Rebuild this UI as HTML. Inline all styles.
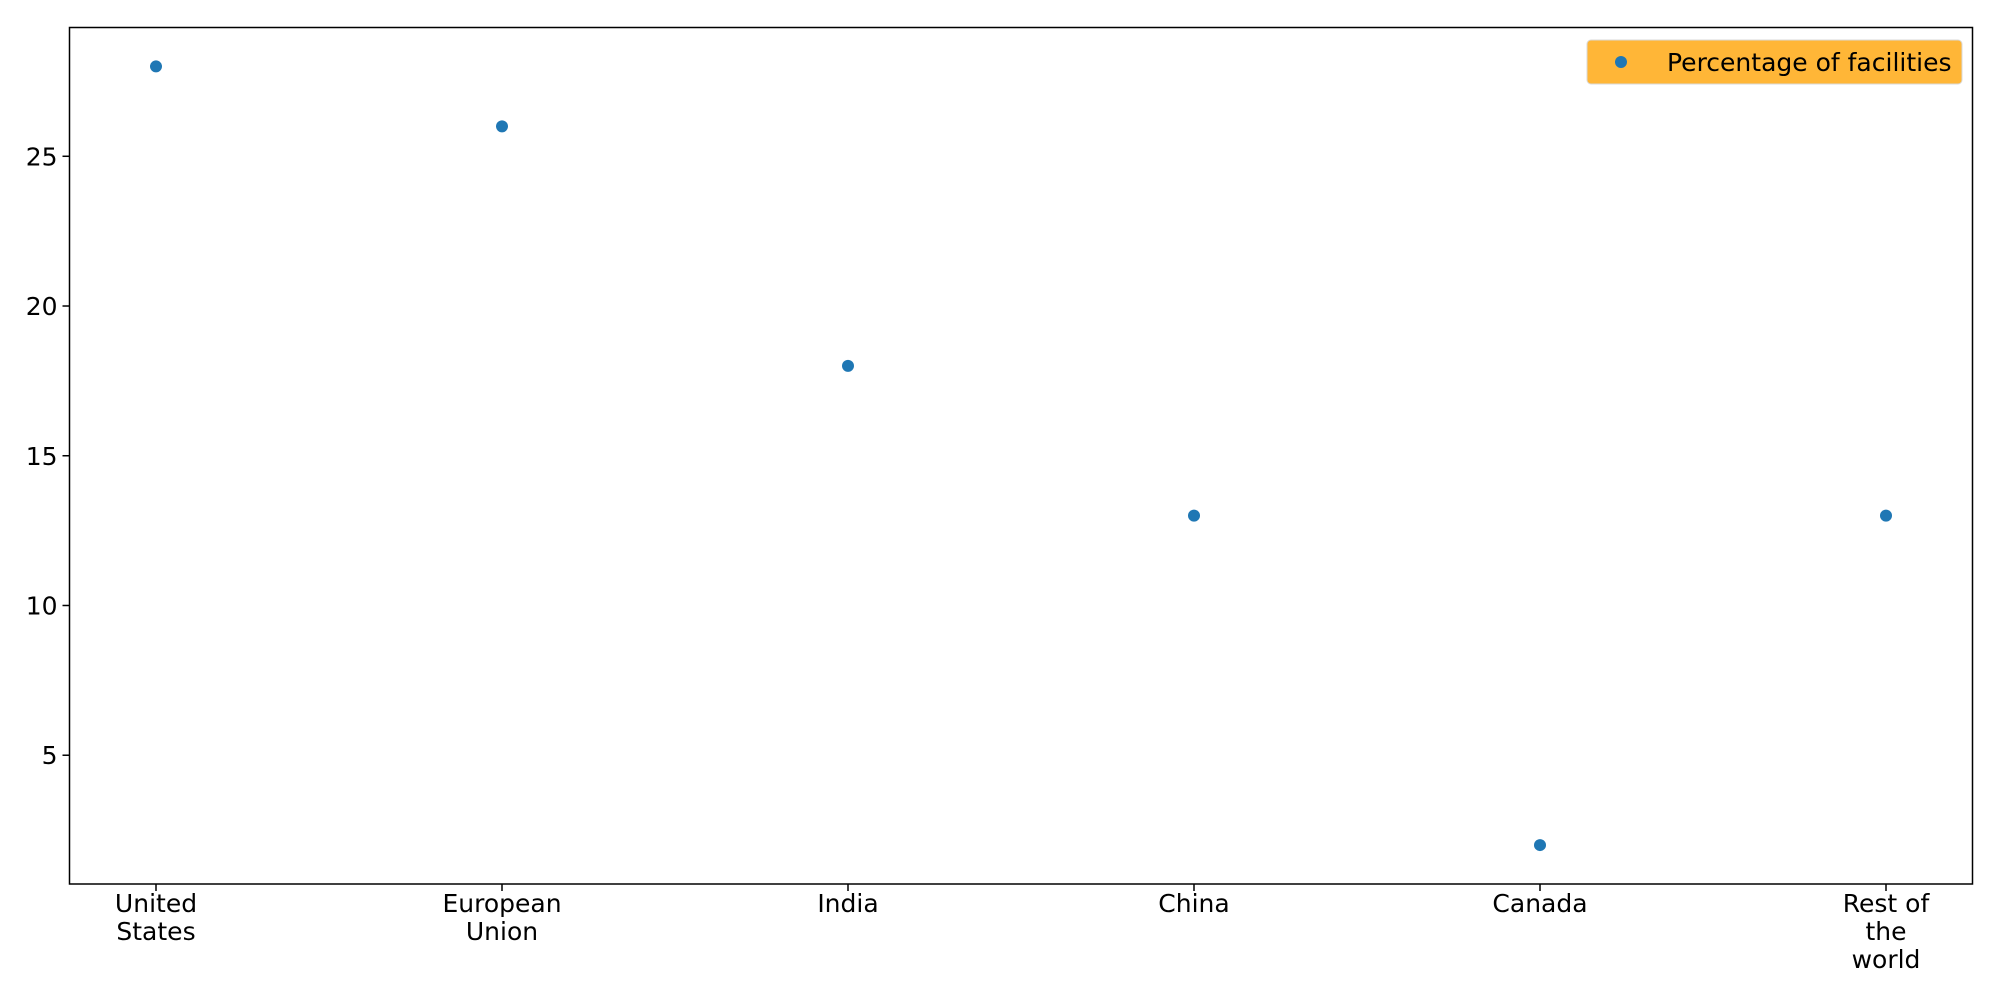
<!DOCTYPE html>
<html><head><meta charset="utf-8"><style>
html,body{margin:0;padding:0;background:#fff;width:2000px;height:1000px;overflow:hidden}
text{font-family:"DejaVu Sans","Liberation Sans",sans-serif;font-size:25px;fill:#000}
</style></head><body>
<svg id="chart" width="2000" height="1000" xmlns="http://www.w3.org/2000/svg">
<g id="ticks"></g>
<g id="pts"></g>
<rect x="69.5" y="27.5" width="1903" height="856.5" fill="none" stroke="#000" stroke-width="1.5"/>
<g>
<rect x="1587" y="40" width="375" height="44" rx="4" fill="#ffb637" stroke="#d9d9d9" stroke-width="1"/>
<circle cx="1621" cy="62" r="6" fill="#1f77b4"/>
<text x="1667" y="71">Percentage of facilities</text>
</g>
</svg>
<script>
const categories=[["United","States"],["European","Union"],["India"],["China"],["Canada"],["Rest of","the","world"]];
const values=[28,26,18,13,2,13];
const yTicks=[5,10,15,20,25];
const L=69.5,R=1972.5,T=27.5,B=884;
const xMin=-0.25,xMax=5.25,yMin=0.7,yMax=29.3;
const xs=v=>L+(v-xMin)/(xMax-xMin)*(R-L);
const ys=v=>B-(v-yMin)/(yMax-yMin)*(B-T);
const NS="http://www.w3.org/2000/svg";
const tk=document.getElementById('ticks'),pg=document.getElementById('pts');
function mk(tag,attrs,parent){const e=document.createElementNS(NS,tag);for(const k in attrs)e.setAttribute(k,attrs[k]);parent.appendChild(e);return e;}
yTicks.forEach(v=>{
 const y=ys(v);
 const l=mk('line',{x1:L-7,x2:L,y1:y,y2:y,stroke:'#000','stroke-width':1.5},tk);
 
 
 const t=mk('text',{x:L-12,y:y+9,'text-anchor':'end'},tk);
 
 
 t.textContent=v;
});
categories.forEach((c,i)=>{
 const x=xs(i);
 const l=mk('line',{x1:x,x2:x,y1:B,y2:B+7,stroke:'#000','stroke-width':1.5},tk);
 
 
 c.forEach((line,j)=>{
  const t=mk('text',{x:x,y:912+j*28,'text-anchor':'middle'},tk);
  
  
  t.textContent=line;
 });
 const p=mk('circle',{cx:x,cy:ys(values[i]),r:6,fill:'#1f77b4'},pg);
 
 
});
</script>
</body></html>
